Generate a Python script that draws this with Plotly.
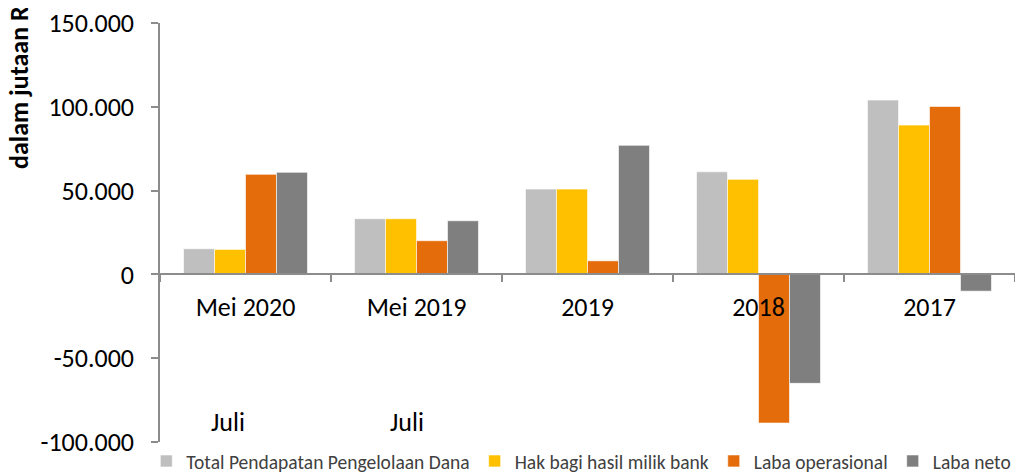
import plotly.graph_objects as go

categories = ["Mei 2020", "Mei 2019", "2019", "2018", "2017"]
series_names = ["Total Pendapatan Pengelolaan Dana", "Hak bagi hasil milik bank",
                "Laba operasional", "Laba neto"]
total_pendapatan = [15300, 33200, 50900, 61200, 104000]
hak_bagi_hasil = [14900, 33200, 50900, 56700, 89100]
laba_operasional = [59700, 20100, 8100, -88700, 100200]
laba_neto = [60900, 32000, 77000, -65000, -10000]
tick_vals = [-100000, -50000, 0, 50000, 100000, 150000]
tick_text = ["-100.000", "-50.000", "0", "50.000", "100.000", "150.000"]
y_title = "dalam jutaan Rp"
sub_labels = ["Juli", "Juli"]

colors = ["#BFBFBF", "#FFC000", "#E46C0A", "#7F7F7F"]
FONT = "Calibri, Carlito, Lato, sans-serif"

fig = go.Figure()
for name, vals, c in zip(series_names,
                         [total_pendapatan, hak_bagi_hasil, laba_operasional, laba_neto],
                         colors):
    fig.add_trace(go.Bar(x=categories, y=vals, name=name,
                         marker=dict(color=c, line=dict(color="white", width=0.6))))

ymin, ymax = -100000, 150000
zero_frac = (0 - ymin) / (ymax - ymin)

# page body has an 8px margin, so the figure is 8px smaller in each direction
fig.update_layout(
    width=1015, height=466,
    margin=dict(l=152, r=8, t=14.7, b=32.3, autoexpand=False),
    paper_bgcolor="white", plot_bgcolor="white",
    barmode="group", bargap=0.275, bargroupgap=0,
    font=dict(family=FONT, size=26, color="#000000"),
    showlegend=True,
    legend=dict(orientation="h", x=-0.016, xanchor="left", y=-0.046, yanchor="middle",
                font=dict(family=FONT, size=19.5, color="#404040"),
                itemwidth=30, tracegroupgap=0, bgcolor="rgba(0,0,0,0)"),
    xaxis=dict(anchor="free", position=zero_frac, showline=True, linecolor="#8C8C8C",
               linewidth=1.5, ticks="outside", tickson="boundaries", ticklen=7,
               tickcolor="#8C8C8C", tickwidth=1.5, showgrid=False, zeroline=False,
               ticklabelstandoff=10, ticklabeloverflow="allow",
               tickfont=dict(family=FONT, size=26, color="#000000")),
    yaxis=dict(range=[ymin, ymax], tickvals=tick_vals, ticktext=tick_text,
               showline=True, linecolor="#8C8C8C", linewidth=1.5, ticks="outside",
               ticklen=7, tickcolor="#8C8C8C", tickwidth=1.5, showgrid=False,
               zeroline=False, ticklabelstandoff=12, ticklabeloverflow="allow",
               tickfont=dict(family=FONT, size=26, color="#000000")),
)

fig.add_annotation(text="<b>" + y_title + "</b>", textangle=-90, xref="paper", yref="paper",
                   x=-0.165, y=0.648, xanchor="center", yanchor="bottom", showarrow=False,
                   font=dict(family=FONT, size=26, color="#000000"))

for cat, lab, shift in zip(categories[:2], sub_labels, [-18, -10]):
    fig.add_annotation(text=lab, xref="x", yref="paper", x=cat, y=0.047, yanchor="middle",
                       xshift=shift, showarrow=False,
                       font=dict(family=FONT, size=26, color="#000000"))

fig.write_html("out.html")
